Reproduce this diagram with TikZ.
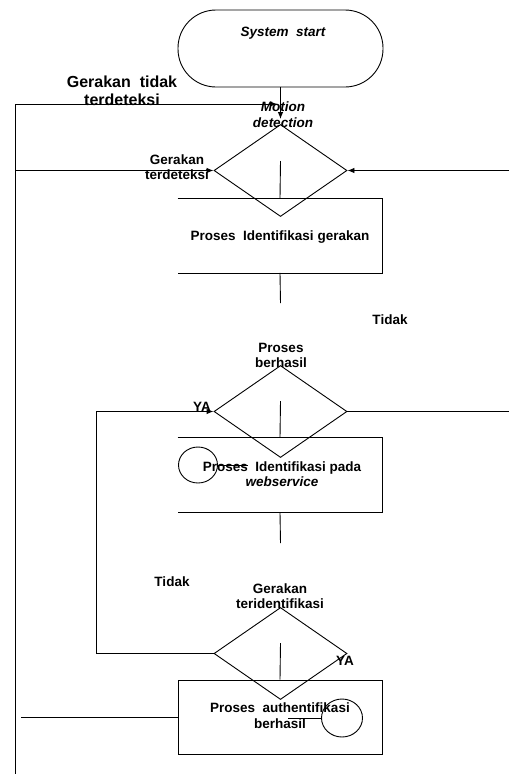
\documentclass[tikz,border=0pt]{standalone}
\usepackage{fontspec}
\setmainfont{Liberation Sans}
\usetikzlibrary{shapes.geometric,positioning,arrows.meta}

\tikzset{
  >={Latex[length=7pt,width=5.5pt]},
  txt/.style={font=\fontsize{13.5}{15.5}\selectfont\bfseries, align=center, inner sep=0pt},
  term/.style={draw, rounded corners=38pt, minimum width=205pt, minimum height=77pt},
  decision/.style={draw, diamond, minimum width=133pt, minimum height=92pt, inner sep=0pt},
  procbox/.style={minimum width=204pt, minimum height=74pt, inner sep=0pt},
  conn/.style={draw, ellipse, inner sep=0pt},
  flow/.style={->}
}

\begin{document}
\begin{tikzpicture}[x=1pt,y=-1pt,line width=0.9pt]
    \useasboundingbox (0,0) rectangle (509,774);
    % shapes
    \node[term] (start) at (280.5,48.5) {};
    \node[txt,font=\fontsize{13.5}{15.5}\selectfont\bfseries\itshape] (start-txt) at (283,33) {System~ start};
    \node[decision] (d1) at (280.5,170.5) {};
    \node[procbox] (b1) at (280,235.5) {};
    \node[txt] (b1-txt) at (280,237) {Proses~ Identifikasi gerakan};
    \node[decision] (d2) at (280.5,411.5) {};
    \node[procbox] (b2) at (280,475) {};
    \node[txt] (b2-txt) at (282,474) {Proses~ Identifikasi pada\\ \textit{webservice}};
    \node[conn,minimum width=39pt,minimum height=36pt] (c1) at (198,465) {};
    \node[decision] (d3) at (280.5,653.5) {};
    \node[procbox,draw] (b3) at (280,717) {};
    \node[txt] (b3-txt) at (280,715.5) {Proses~ authentifikasi\\ berhasil};
    \node[conn,minimum width=41pt,minimum height=38pt] (c2) at (342,718) {};

    % labels
    \node[txt,font=\fontsize{13.5}{15.5}\selectfont\bfseries\itshape] (motion) at (283,114.5) {Motion\\ detection};
    \node[txt,font=\fontsize{16}{18}\selectfont\bfseries] (tdk-gerak) at (122,91) {Gerakan~ tidak\\ terdeteksi};
    \node[txt] (ada-gerak) at (177,167) {Gerakan\\ terdeteksi};
    \node[txt] (tidak1) at (390,320) {Tidak};
    \node[txt] (berhasil) at (281,355.5) {Proses\\ berhasil};
    \node[txt] (ya1) at (202,407) {YA};
    \node[txt] (tidak2) at (172,582) {Tidak};
    \node[txt] (teriden) at (280,596) {Gerakan\\ teridentifikasi};
    \node[txt] (ya2) at (345,661) {YA};

    % free ends
    \coordinate (tl) at (15,104);
    \coordinate (tr) at (277,104);
    \coordinate (bl) at (15,774);
    \coordinate (l1) at (15,170.5);
    \coordinate (r1) at (509,170.5);
    \coordinate (i1) at (280.5,161);
    \coordinate (s1) at (280.5,303);
    \coordinate (i2) at (280.5,401);
    \coordinate (r2) at (509,411.5);
    \coordinate (ya) at (96,411.5);
    \coordinate (s2) at (280.5,543);
    \coordinate (i3) at (280.5,643);
    \coordinate (l3) at (21,717);
    \coordinate (k1) at (248,465);
    \coordinate (k2) at (288,718);

    % connectors
    \draw[flow] (start.south) -- ([yshift=5pt]d1.north);
    \draw[flow] (tl) -- (tr);
    \draw (tl) -- (bl);
    \draw[flow] (l1) -- (d1.west);
    \draw[flow] (r1) -- (d1.east);
    \draw (i1) -- (b1.north);
    \draw (b1.north west) -- (b1.north east) -- (b1.south east) -- (b1.south west);
    \draw (b1.south) -- (s1);
    \draw (i2) -- (b2.north);
    \draw (b2.north west) -- (b2.north east) -- (b2.south east) -- (b2.south west);
    \draw (d2.east) -- (r2);
    \draw[flow] (ya) -- (d2.west);
    \draw (ya) |- (d3.west);
    \draw (b2.south) -- (s2);
    \draw (i3) -- (b3.north);
    \draw (l3) -- (b3.west);
    \draw (c1.east) -- (k1);
    \draw (k2) -- (c2.west);
\end{tikzpicture}
\end{document}
